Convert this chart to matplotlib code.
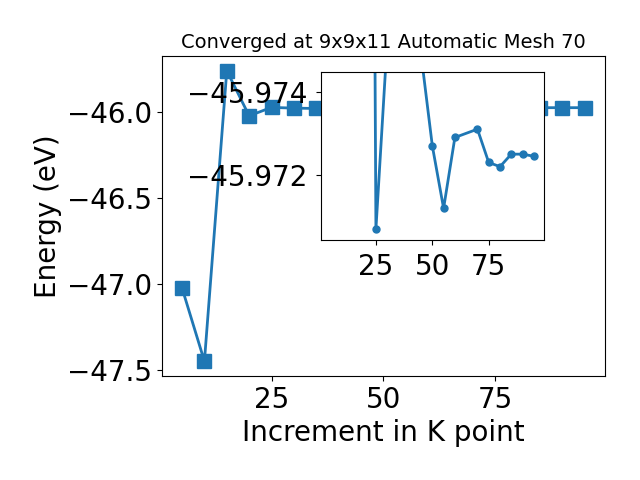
import matplotlib
matplotlib.use("Agg")
import matplotlib.pyplot as plt

kpoints = [5, 10, 15, 20, 25, 30, 35, 40, 45, 50, 55, 60, 70, 75, 80, 85, 90, 95]
energy = [-47.023, -47.45, -45.757, -46.02, -45.9707, -45.9752, -45.977, -45.978,
          -45.9749, -45.9727, -45.9712, -45.9729, -45.9731, -45.9723, -45.9722,
          -45.9725, -45.9725, -45.97245]

fig = plt.figure(figsize=(6.4, 4.8), dpi=100)
ax = fig.add_axes([0.253, 0.217, 0.692, 0.666])
ax.plot(kpoints, energy, marker="s", markersize=10, linewidth=2, color="#1f77b4")
ax.set_xticks([25, 50, 75])
ax.set_xlabel("Increment in K point", fontsize=20)
ax.set_ylabel("Energy (eV)", fontsize=20)
ax.set_title("Converged at 9x9x11 Automatic Mesh 70", fontsize=14)
ax.tick_params(labelsize=20)

# zoomed inset, from 20 onwards
axins = fig.add_axes([0.501, 0.5, 0.349, 0.349])
axins.plot(kpoints[3:], energy[3:], marker="o", markersize=5, linewidth=2, color="#1f77b4")
axins.set_xlim(ax.get_xlim())
axins.set_ylim(-45.97044, -45.97446)
axins.set_yticks([-45.974, -45.972])
axins.set_xticks([25, 50, 75])
axins.ticklabel_format(axis="y", useOffset=False)
axins.tick_params(labelsize=20, pad=6)

fig.savefig("out.png", dpi=100)
